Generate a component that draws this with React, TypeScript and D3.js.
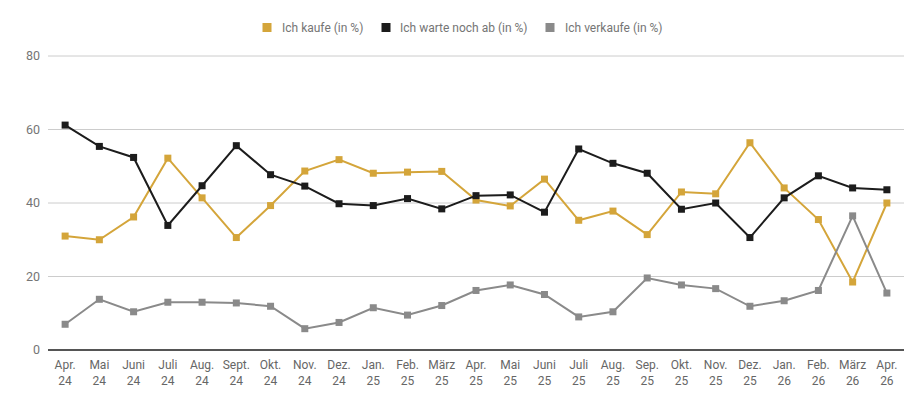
import React from "react";
import * as d3 from "d3";

const months = [
  ["Apr.", "24"], ["Mai", "24"], ["Juni", "24"], ["Juli", "24"], ["Aug.", "24"], ["Sept.", "24"],
  ["Okt.", "24"], ["Nov.", "24"], ["Dez.", "24"], ["Jan.", "25"], ["Feb.", "25"], ["März", "25"],
  ["Apr.", "25"], ["Mai", "25"], ["Juni", "25"], ["Juli", "25"], ["Aug.", "25"], ["Sep.", "25"],
  ["Okt.", "25"], ["Nov.", "25"], ["Dez.", "25"], ["Jan.", "26"], ["Feb.", "26"], ["März", "26"],
  ["Apr.", "26"],
];

const kaufe = [31, 30, 36.2, 52.2, 41.4, 30.6, 39.3, 48.7, 51.8, 48.1, 48.4, 48.6, 40.8, 39.2, 46.5, 35.3, 37.8, 31.4, 43.0, 42.5, 56.4, 44.1, 35.5, 18.5, 40.0];
const warte = [61.2, 55.4, 52.4, 33.9, 44.7, 55.6, 47.7, 44.6, 39.8, 39.3, 41.2, 38.4, 42.0, 42.2, 37.5, 54.7, 50.8, 48.1, 38.3, 40.0, 30.6, 41.4, 47.4, 44.1, 43.6];
const verkaufe = [7.0, 13.8, 10.4, 13.0, 13.0, 12.8, 11.9, 5.8, 7.5, 11.5, 9.5, 12.1, 16.2, 17.7, 15.1, 9.0, 10.4, 19.6, 17.7, 16.7, 11.9, 13.4, 16.2, 36.5, 15.5];

const yTicks = [0, 20, 40, 60, 80];

const series = [
  { name: "Ich kaufe (in %)", values: kaufe, color: "#d4a53a" },
  { name: "Ich warte noch ab (in %)", values: warte, color: "#1c1c1c" },
  { name: "Ich verkaufe (in %)", values: verkaufe, color: "#8a8a8a" },
];

export default function App() {
  const W = 924, H = 407;
  const left = 48, right = 904, top = 56, bottom = 350;
  const x = d3.scaleBand<number>().domain(d3.range(months.length)).range([left, right]).padding(0);
  const y = d3.scaleLinear().domain([0, 80]).range([bottom, top]);
  const cx = (i: number) => (x(i) as number) + x.bandwidth() / 2;
  const line = d3.line<number>().x((_, i) => cx(i)).y((v) => y(v));
  const font = "Roboto, 'Noto Sans', sans-serif";
  const legendX = [262.5, 381.5, 545.5];
  const legendTextX = [282, 400, 565];
  return (
    <svg width={W} height={H} style={{ position: "absolute", left: 0, top: 0, fontFamily: font }}>
      {yTicks.filter((t) => t > 0).map((t) => (
        <line key={t} x1={left} x2={right} y1={y(t)} y2={y(t)} stroke="#cccccc" strokeWidth={1} />
      ))}
      {yTicks.map((t) => (
        <text key={t} x={40} y={y(t)} dy="0.35em" textAnchor="end" fontSize={12.5} fill="#757575">{t}</text>
      ))}
      <line x1={left} x2={right} y1={y(0)} y2={y(0)} stroke="#1c1c1c" strokeWidth={1.5} />
      {months.map((m, i) => (
        <g key={i}>
          <text x={cx(i)} y={368.5} textAnchor="middle" fontSize={12} fill="#666">{m[0]}</text>
          <text x={cx(i)} y={384.5} textAnchor="middle" fontSize={12} fill="#666">{m[1]}</text>
        </g>
      ))}
      {series.map((s) => (
        <g key={s.name}>
          <path d={line(s.values) || ""} fill="none" stroke={s.color} strokeWidth={2} />
          {s.values.map((v, i) => (
            <rect key={i} x={cx(i) - 3.5} y={y(v) - 3.5} width={7} height={7} fill={s.color} />
          ))}
        </g>
      ))}
      {series.map((s, k) => (
        <g key={s.name}>
          <rect x={legendX[k]} y={23} width={9} height={9} fill={s.color} />
          <text x={legendTextX[k]} y={27.5} dy="0.35em" fontSize={12} fill="#757575">{s.name}</text>
        </g>
      ))}
    </svg>
  );
}
